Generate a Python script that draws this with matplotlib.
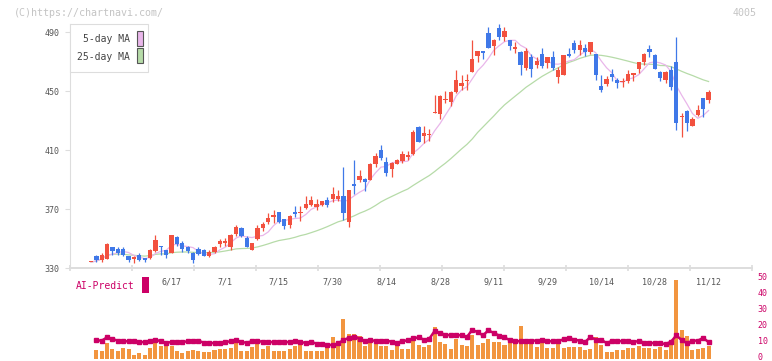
import numpy as np
import pandas as pd
import matplotlib
matplotlib.use("Agg")
import matplotlib.pyplot as plt
from matplotlib.patches import Rectangle
from matplotlib.transforms import ScaledTranslation

# ---------------- data ----------------
opens = [334, 338, 335.5, 336, 344, 343, 343, 338, 336.3, 339, 336.5, 337, 341.5, 345, 342, 340.5, 351, 347, 344.5, 340.4,
         343, 342, 338, 341, 346, 346.7, 344.5, 353, 357, 350.6, 342.2, 349.6, 357, 361.5, 364.5, 368, 363.3, 359.2, 368.2, 367,
         370.5, 373, 371.5, 372.7, 376, 376.5, 376.5, 378.8, 361.4, 387, 389.7, 390.6, 389.7, 400.5, 410, 401.8, 397, 400.5, 402.7, 405.5,
         407.3, 425.4, 419.7, 420, 434.8, 434.4, 444, 442.7, 449.5, 453.6, 456.5, 463, 474, 477, 489.3, 480.7, 492.7, 486.8, 484.6, 478.7,
         476.6, 465.8, 473.3, 467.6, 475, 469.2, 473, 459.7, 461, 475, 482.3, 477.8, 479, 476.2, 475, 453.4, 454.7, 461.5, 457.5, 456,
         456.8, 461, 465, 470, 478.5, 474.4, 463, 457.5, 464.2, 470, 432.3, 436.4, 426.3, 433.7, 445, 444]
highs = [334, 339, 340, 347, 344.5, 344, 344, 338, 338, 340, 336.5, 343, 352.5, 345, 342.5, 352.5, 351.5, 348, 345, 341,
         344.5, 343, 342, 345, 350, 350.5, 353, 359, 358, 351.5, 346.7, 359, 361.5, 367.5, 369, 368.2, 363.3, 366, 372, 372,
         378.5, 379, 377, 375.6, 378, 385, 383, 398.7, 383, 403, 396.4, 391, 401.5, 408, 413.4, 405, 402, 404, 409, 409,
         423.6, 426.5, 426, 424, 447, 447, 450, 450, 464, 461, 461.5, 484.6, 477, 477, 493.6, 485.3, 495.4, 493.4, 484.6, 483,
         477, 479, 475, 473, 479, 473.3, 477, 466, 474.4, 479, 484.6, 484.6, 482, 483.5, 475, 460.8, 460, 464.9, 459, 458.6,
         464.2, 462.4, 470, 475.5, 481.2, 475, 463.5, 463.5, 467, 486.8, 435.3, 437, 432.6, 440.5, 445, 451]
lows = [334, 334, 334, 336, 339, 338.5, 338, 334, 333.7, 334.5, 334, 336, 341, 339, 336.5, 340, 345, 341, 340, 333.7,
        338.5, 338, 337.7, 340, 344.5, 345, 342, 351.5, 351, 344, 342, 349, 355, 360, 360.5, 360.5, 356.5, 357, 364.5, 362,
        370, 372, 369.5, 372, 371.5, 375, 375.5, 362.5, 357.6, 380, 388.5, 382.4, 389.7, 398.6, 403, 392.5, 392, 400.5, 401, 403.5,
        406.6, 415.6, 415, 416, 434.8, 431, 442, 440, 448.8, 451, 451, 463, 470, 471.7, 479, 474.4, 484.6, 484, 477.8, 475.5,
        460.8, 464, 459.7, 465.8, 465.8, 465.8, 464, 455.6, 461, 473, 476, 474.4, 474, 475, 457.5, 449.5, 453.4, 456.5, 451.8, 452.9,
        455.5, 457, 462, 467.5, 473.3, 465, 456.5, 455.5, 450.7, 423.6, 419, 423, 426, 433, 432.2, 442]
closes = [334, 335.5, 339, 346.5, 341.5, 340, 339, 335.5, 336.5, 335.5, 335.5, 342.5, 349, 344, 339, 352.5, 346.5, 343, 341.7, 335.5,
          339.6, 338, 341, 344.5, 348.5, 348.5, 352.4, 357.6, 352, 344.5, 346.7, 357, 360, 364, 366, 361.5, 358.5, 365.3, 366.6, 367.5,
          373.4, 376, 373.4, 375.6, 372.7, 380.2, 378.8, 367, 383, 385.6, 392.4, 388.5, 400.5, 406, 404.6, 394.6, 401, 403.2, 407.3, 406,
          422.2, 415.6, 421.3, 421, 435.2, 446.6, 444.6, 449.5, 457.5, 455.6, 457, 471.5, 477, 476, 479, 484.6, 486.8, 490.7, 480.7, 479,
          467.6, 477, 465, 470.3, 467.2, 473.3, 465.8, 464.2, 474.4, 474, 477.8, 481.2, 476.6, 483, 460.8, 450.7, 457.9, 459.3, 455.2, 456.3,
          461.5, 462.4, 470, 475, 476.6, 465, 458.6, 463, 453, 428.5, 432.6, 428.5, 431, 437, 437.8, 449.5]

volume = [np.nan,
          5.1, 5, 9.5, 5.7, 5, 6.3, 5.7, 2.5, 3.4, 2.5, 6.5, 10.3, 7.6, 7.6, 7.6, 5, 3.4, 5, 5.5, 5,
          4.2, 4, 5.5, 5.7, 6, 6.5, 10.3, 5, 5, 7.4, 9.1, 6.1, 7.6, 5, 5, 5, 6, 7.6, 8.9, 5,
          5, 5, 5, 8.7, 13.3, 9.3, 24.7, 15.4, 15.4, 14.3, 7.6, 11.2, 9.1, 7.8, 7.8, 5.5, 8.7,
          5.9, 5.9, 13.3, 8.7, 7.4, 8.2, 19.6, 10.3, 9.3, 5.9, 12.2, 8.2, 7.6, 14.6, 8.2, 9.7, 12.4, 10.3, 10.3, 8.2, 9.7, 9.7, 20.3,
          10.7, 9.3, 7.2, 9.7, 6.3, 6.8, 9.7, 6.5, 7.4, 7.0, 7.2, 5.1, 5.9, 13.3,
          8.2, 4, 4, 5.1, 5.1, 6.8, 6.8, 7.6, 6.8, 6.8, 5.9, 7.4, 5.3, 9.7,
          49.4, 17.7, 13.9, 5.5, 5.9, 6.5, 7.6]

ai_predict = [np.nan,
              11.4, 11.2, 13.3, 12.2, 11.2, 10.8, 10.8, 10.8, 10.3, 10.3, 11.2, 11.8, 10.8, 9.9, 10.3, 10.3, 10.3, 10.8, 11.2,
              11.2, 9.9, 9.7, 9.7, 9.7, 10.3, 10.8, 11.4, 10.3, 9.9, 10.8, 11.2, 10.3, 10.3, 10.3, 10.3, 10.3, 10.3, 11.0, 10.3,
              9.8, 10.3, 9.4, 9.0, 8.6, 8.4, 9.5, 11.5, 13.0, 13.8, 12.5, 11.0, 11.6, 11.0,
              11.2, 11.2, 10.5, 9.9, 10.8, 11.5, 12.6, 13.3, 11.8, 12.4, 17.3, 16, 14.9, 14.6, 14.8, 14.5, 13.5, 18, 16.5, 14.5,
              17.7, 16, 14.4, 13.2, 11.5, 10.9, 10.8, 11.2, 11.2, 11.2, 11.5, 10.8, 10.8, 11, 12, 12.9, 11.8, 11.2, 10.3, 13.5,
              11.8, 11.8, 9.7, 11, 11, 10.8, 10.8, 10.3, 11, 10, 9.7, 9.7, 9.5, 9.1, 10.5, 14.5, 11.5, 9.5, 11.2, 11.2,
              12.9, 10.3]

date_labels = ['6/17', '7/1', '7/15', '7/30', '8/14', '8/28', '9/11', '9/29', '10/14', '10/28', '11/12']
date_label_idx = [15, 25, 35, 45, 55, 65, 75, 85, 95, 105, 115]
price_ticks = [330, 370, 410, 450, 490]
vol_ticks = [0, 10, 20, 30, 40, 50]

# ---------------- derived ----------------
df = pd.DataFrame({'o': opens, 'h': highs, 'l': lows, 'c': closes, 'v': volume, 'ai': ai_predict})
n = len(df)
x = np.arange(n)
ma5 = df['c'].rolling(5, min_periods=1).mean()
ma25 = df['c'].rolling(25, min_periods=1).mean()

UP = '#f2513f'
DOWN = '#3f78e8'
MONO = 'DejaVu Sans Mono'
W, H = 772, 361


def rect(x0, y0, x1, y1):
    return [x0 / W, 1 - y1 / H, (x1 - x0) / W, (y1 - y0) / H]


fig = plt.figure(figsize=(W / 100, H / 100), dpi=100)
fig.patch.set_facecolor('white')

# ---------------- main price axes ----------------
ax = fig.add_axes(rect(70, 24, 752, 268))
ax.set_facecolor('none')
ppu = 1.475  # pixels per price unit
ax.set_ylim(330, 330 + 244 / ppu)
xs = 5.37
ax.set_xlim((70 - 91) / xs, (752 - 91) / xs)

ax.plot(x, ma25, color='#b6dba8', lw=0.9, zorder=2)
ax.plot(x, ma5, color='#e9b6ea', lw=0.9, zorder=2)

up = df['c'] >= df['o']
colors = np.where(up, UP, DOWN)
ax.vlines(x, df['l'], df['h'], colors=colors, lw=0.9, zorder=3, clip_on=False)
body_lo = np.minimum(df['o'], df['c'])
body_h = np.maximum(np.abs(df['c'] - df['o']), 0.9)
ax.bar(x, body_h, bottom=body_lo, width=0.8, color=colors, linewidth=0, zorder=4, clip_on=False)

for s in ['top', 'right']:
    ax.spines[s].set_visible(False)
ax.spines['left'].set_color('#dddddd')
ax.spines['left'].set_linewidth(0.8)
ax.spines['bottom'].set_color('#dddddd')
ax.spines['bottom'].set_linewidth(1.4)

ax.set_yticks(price_ticks)
ax.set_yticklabels([str(t) for t in price_ticks], fontsize=6, color='#555555', family=MONO)
ax.tick_params(axis='y', direction='out', length=3.6, width=0.8, color='#dddddd', pad=4)

grid_px = [70 + 62 * k for k in range(12)]
ax.set_xticks([(p - 91) / xs for p in grid_px])
ax.set_xticklabels([])
ax.tick_params(axis='x', which='major', direction='inout', length=5, width=1.2, color='#dddddd')
ax.set_xticks(date_label_idx, minor=True)
ax.set_xticklabels(date_labels, minor=True, fontsize=6, color='#555555', family=MONO)
ax.tick_params(axis='x', which='minor', length=0, pad=7)

# ---------------- volume / AI axes ----------------
av = fig.add_axes(rect(70, 270, 752, 361))
av.set_facecolor('none')
vppu = 1.594
av.set_ylim(-2.5 / vppu, 88.5 / vppu)
av.set_xlim(ax.get_xlim())
av.bar(x, df['v'], width=0.75, color='#f2953f', linewidth=0, zorder=2)
av.plot(x, df['ai'], color='#cc0066', lw=1.8, marker='s', ms=2.2, zorder=3)
for s in av.spines.values():
    s.set_visible(False)
av.set_xticks([])
av.yaxis.tick_right()
av.set_yticks(vol_ticks)
av.set_yticklabels([str(t) for t in vol_ticks], fontsize=6, color='#cc0066', family=MONO)
av.tick_params(axis='y', length=0, pad=4)
shift = ScaledTranslation(0, 1.6 / 72, fig.dpi_scale_trans)
for lbl in av.get_yticklabels():
    lbl.set_transform(lbl.get_transform() + shift)

# ---------------- texts / legend ----------------
fig.text(14 / W, 1 - 12.5 / H, '(C)https://chartnavi.com/', fontsize=7.2, color='#c4c4c4',
         family=MONO, va='center', ha='left')
fig.text(757 / W, 1 - 12.5 / H, '4005', fontsize=7.2, color='#c4c4c4', family=MONO, va='center', ha='right')

fig.text(76 / W, 1 - 286 / H, 'AI-Predict', fontsize=7, color='#cc0066', family=MONO, va='center', ha='left')
fig.add_artist(Rectangle((142 / W, 1 - 293 / H), 6.5 / W, 16 / H, transform=fig.transFigure,
                         facecolor='#cc0066', edgecolor='none'))

fig.add_artist(Rectangle((70 / W, 1 - 72 / H), 78 / W, 48 / H, transform=fig.transFigure,
                         facecolor='white', edgecolor='#dddddd', lw=0.8, zorder=5))
fig.text(130 / W, 1 - 39 / H, '5-day MA', fontsize=7, color='#444444', family=MONO,
         va='center', ha='right', zorder=6)
fig.text(130 / W, 1 - 57 / H, '25-day MA', fontsize=7, color='#444444', family=MONO,
         va='center', ha='right', zorder=6)
fig.add_artist(Rectangle((137 / W, 1 - 46 / H), 5.5 / W, 15 / H, transform=fig.transFigure,
                         facecolor='#e9b6ea', edgecolor='#555555', lw=0.8, zorder=6))
fig.add_artist(Rectangle((137 / W, 1 - 63 / H), 5.5 / W, 15 / H, transform=fig.transFigure,
                         facecolor='#b6dba8', edgecolor='#555555', lw=0.8, zorder=6))

fig.savefig('out.png', dpi=100, facecolor='white')
